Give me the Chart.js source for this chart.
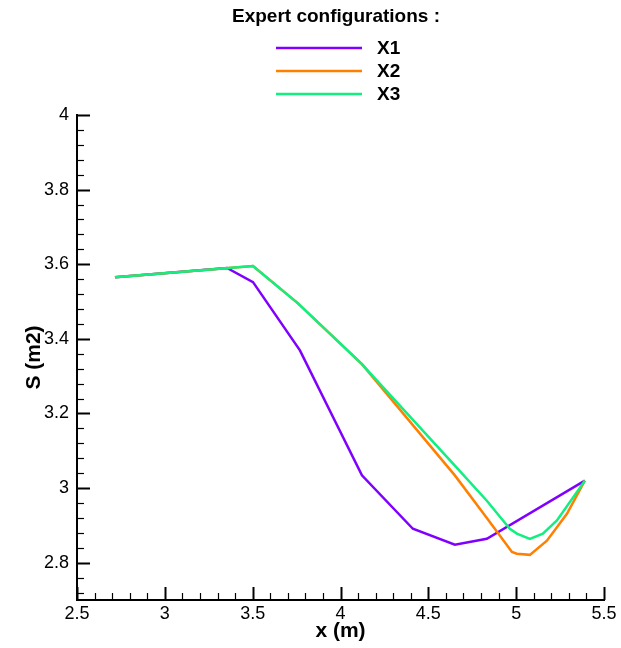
<!DOCTYPE html>
<html>
<head>
<meta charset="utf-8">
<title>Expert configurations</title>
<script src="https://cdn.jsdelivr.net/npm/chart.js@4/dist/chart.umd.min.js"></script>
<style>
    html, body { margin: 0; padding: 0; background: #fff; }
    #chart { display: block; }
</style>
</head>
<body>
<canvas id="chart" width="621" height="648"></canvas>
<script>
// Chart data
const seriesLabels = ['X1', 'X2', 'X3'];
const seriesColors = ['#7f00ff', '#ff7f00', '#10ef80'];

const x1X = [2.716, 3.354, 3.502, 3.769, 4.122, 4.412, 4.651, 4.833, 5.391];
const x1Y = [3.565, 3.590, 3.552, 3.369, 3.034, 2.891, 2.848, 2.864, 3.020];

const x2X = [2.716, 3.502, 3.758, 4.122, 4.651, 4.833, 4.976, 5.004, 5.078, 5.175, 5.289, 5.391];
const x2Y = [3.565, 3.595, 3.495, 3.332, 3.034, 2.920, 2.829, 2.824, 2.821, 2.859, 2.931, 3.020];

const x3X = [2.716, 3.502, 3.758, 4.122, 4.651, 4.833, 4.964, 5.004, 5.078, 5.152, 5.232, 5.391];
const x3Y = [3.565, 3.595, 3.495, 3.332, 3.060, 2.966, 2.891, 2.878, 2.864, 2.878, 2.913, 3.020];

const xTicks = [2.5, 3, 3.5, 4, 4.5, 5, 5.5];
const yTicks = [2.8, 3, 3.2, 3.4, 3.6, 3.8, 4];
const xMinorStep = 0.1;
const yMinorStep = 0.04;

const legendTitle = 'Expert configurations :';

function toPoints(xs, ys) {
    return xs.map(function(x, i) { return { x: x, y: ys[i] }; });
}

/**
 * Inward tick marks (major + minor), like the original plot
 */
const innerTicksPlugin = {
    id: 'innerTicks',
    afterDatasetsDraw: function(chart) {
        const ctx = chart.ctx;
        const xs = chart.scales.x;
        const ys = chart.scales.y;
        const area = chart.chartArea;
        ctx.save();
        ctx.strokeStyle = '#000';

        // x axis
        for (let v = xs.min; v <= xs.max + 1e-9; v += xMinorStep) {
            const val = Math.round(v * 100) / 100;
            const isMajor = xTicks.some(t => Math.abs(t - val) < 1e-6);
            const px = Math.round(xs.getPixelForValue(val)) + 0.5;
            ctx.lineWidth = isMajor ? 2 : 1.2;
            ctx.beginPath();
            ctx.moveTo(px, area.bottom);
            ctx.lineTo(px, area.bottom - (isMajor ? 13 : 7));
            ctx.stroke();
        }

        // y axis
        for (let v = 2.72; v <= ys.max + 1e-9; v += yMinorStep) {
            const val = Math.round(v * 100) / 100;
            const isMajor = yTicks.some(t => Math.abs(t - val) < 1e-6);
            const py = Math.round(ys.getPixelForValue(val)) + 0.5;
            ctx.lineWidth = isMajor ? 2 : 1.2;
            ctx.beginPath();
            ctx.moveTo(area.left, py);
            ctx.lineTo(area.left + (isMajor ? 13 : 7), py);
            ctx.stroke();
        }
        ctx.restore();
    }
};

/**
 * Stacked legend with a bold title at the top
 */
const stackedLegendPlugin = {
    id: 'stackedLegend',
    afterDraw: function(chart) {
        const ctx = chart.ctx;
        ctx.save();
        ctx.fillStyle = '#000';
        ctx.textBaseline = 'middle';
        ctx.font = 'bold 19px "Liberation Sans", Arial, sans-serif';
        ctx.textAlign = 'center';
        ctx.fillText(legendTitle, 336, 17);

        ctx.textAlign = 'left';
        const rows = [48, 71, 94];
        seriesLabels.forEach(function(label, i) {
            ctx.strokeStyle = seriesColors[i];
            ctx.lineWidth = 2.5;
            ctx.beginPath();
            ctx.moveTo(276, rows[i]);
            ctx.lineTo(362, rows[i]);
            ctx.stroke();
            ctx.fillText(label, 377, rows[i] + 1);
        });
        ctx.restore();
    }
};

function initChart() {
    const ctx = document.getElementById('chart');

    const data = {
        datasets: [
            { label: seriesLabels[0], data: toPoints(x1X, x1Y), borderColor: seriesColors[0], order: 2 },
            { label: seriesLabels[1], data: toPoints(x2X, x2Y), borderColor: seriesColors[1], order: 1 },
            { label: seriesLabels[2], data: toPoints(x3X, x3Y), borderColor: seriesColors[2], order: 0 }
        ].map(function(ds) {
            ds.borderWidth = 2.5;
            ds.pointRadius = 0;
            ds.fill = false;
            ds.tension = 0;
            return ds;
        })
    };

    const tickFont = { family: '"Liberation Sans", Arial, sans-serif', size: 18 };
    const titleFont = { family: '"Liberation Sans", Arial, sans-serif', size: 21, weight: 'bold' };

    const options = {
        responsive: false,
        animation: false,
        layout: {
            padding: { left: 0, top: 115, right: 17, bottom: 0 }
        },
        plugins: {
            legend: { display: false },
            tooltip: { enabled: false }
        },
        scales: {
            x: {
                type: 'linear',
                min: 2.5,
                max: 5.5,
                afterBuildTicks: function(scale) {
                    scale.ticks = xTicks.map(v => ({ value: v }));
                },
                afterFit: function(scale) { scale.height = 48; },
                grid: { display: false, drawTicks: false },
                border: { display: true, color: '#000', width: 2 },
                ticks: {
                    color: '#000',
                    font: tickFont,
                    padding: 3,
                    maxRotation: 0,
                    callback: function(value) { return String(value); }
                },
                title: {
                    display: true,
                    text: 'x (m)',
                    color: '#000',
                    font: titleFont,
                    padding: { top: 0, bottom: 4 }
                }
            },
            y: {
                type: 'linear',
                min: 2.7,
                max: 4,
                afterBuildTicks: function(scale) {
                    scale.ticks = yTicks.map(v => ({ value: v }));
                },
                afterFit: function(scale) { scale.width = 77; },
                grid: { display: false, drawTicks: false },
                border: { display: true, color: '#000', width: 2 },
                ticks: {
                    color: '#000',
                    font: tickFont,
                    padding: 8,
                    callback: function(value) { return String(value); }
                },
                title: {
                    display: true,
                    text: 'S (m2)',
                    color: '#000',
                    font: titleFont,
                    padding: { top: 22, bottom: 0 }
                }
            }
        }
    };

    window.chart = new Chart(ctx, {
        type: 'line',
        data: data,
        options: options,
        plugins: [innerTicksPlugin, stackedLegendPlugin]
    });
}

document.addEventListener('DOMContentLoaded', initChart);
</script>
</body>
</html>
